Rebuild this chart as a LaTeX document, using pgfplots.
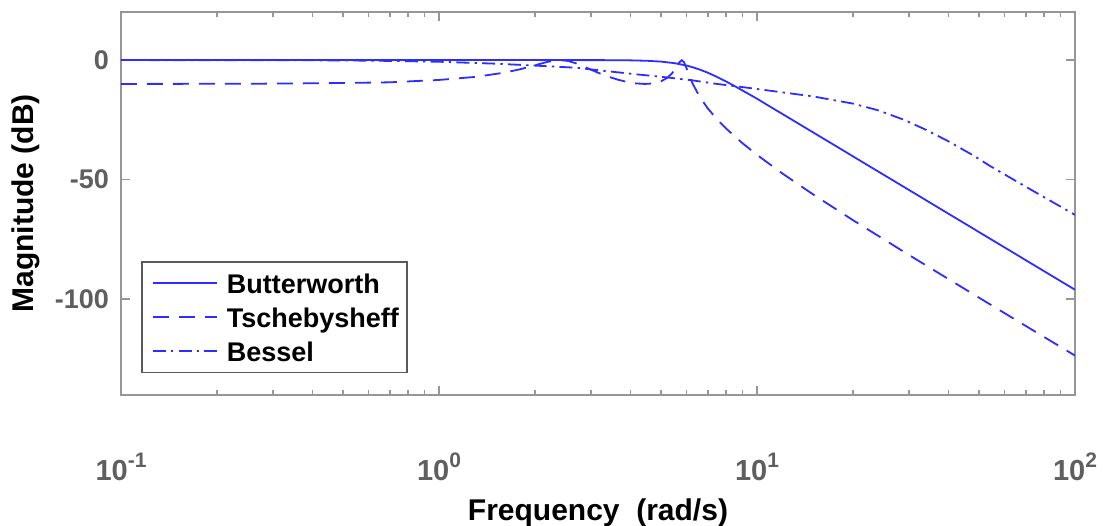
\documentclass[border=0pt]{standalone}
\usepackage{fontspec}
\setmainfont{Liberation Sans}
\usepackage{pgfplots}
\pgfplotsset{compat=1.18}
\definecolor{curve}{RGB}{45,45,255}
\definecolor{axgray}{RGB}{150,150,150}
\definecolor{lblgray}{RGB}{95,95,95}
\definecolor{legdraw}{RGB}{90,90,90}
\newcommand{\tp}[1]{10\raisebox{6.5pt}{\fontsize{10.5}{12}\selectfont\bfseries #1}}
\begin{document}
\begin{tikzpicture}
\path[use as bounding box] (-60.5pt,-65.25pt) rectangle (491pt,197.25pt);
\begin{axis}[
  scale only axis, width=477pt, height=191.1pt,
  xmode=log, xmin=0.1, xmax=100, ymin=-140, ymax=20,
  xtick={0.1,1,10,100},
  xticklabels={\tp{-1},\tp{0},\tp{1},\tp{2}},
  minor xtick={0.2,0.3,0.4,0.5,0.6,0.7,0.8,0.9,2,3,4,5,6,7,8,9,20,30,40,50,60,70,80,90},
  ytick={-100,-50,0}, yticklabels={-100,-50,0},
  xtick pos=both, ytick pos=both,
  xticklabel pos=lower, yticklabel pos=left,
  tick align=inside,
  axis line style={draw=axgray, line width=1pt},
  tick style={draw=axgray, line width=0.8pt},
  major tick length=4.5pt, minor tick length=2.3pt,
  ticklabel style={font=\bfseries\fontsize{13.5}{16}\selectfont, text=lblgray},
  xticklabel style={anchor=base, yshift=-43pt, font=\bfseries\fontsize{14.5}{16}\selectfont},
  yticklabel style={anchor=east, xshift=-2.5pt},
  xlabel={Frequency\ \ (rad/s)}, ylabel={Magnitude (dB)},
  label style={font=\bfseries\fontsize{15}{18}\selectfont, text=black},
  xlabel style={at={(axis description cs:0.5,0)}, anchor=base, yshift=-63pt},
  ylabel style={at={(axis description cs:-0.092,0.5)}, anchor=base},
  legend style={at={(0.021,0.056)}, anchor=south west, draw=legdraw, line width=0.8pt,
    fill=white, font=\bfseries\fontsize{13.5}{16}\selectfont,
    inner xsep=3pt, inner ysep=2pt,
    nodes={inner sep=1pt, text height=12.5pt, text depth=2.5pt}},
  legend cell align=left,
  legend image code/.code={\draw[draw=none] (0pt,0pt) -- (2.5pt,0pt); \draw[#1] (2.5pt,0pt) -- (34.5pt,0pt); \draw[draw=none] (34.5pt,0pt) -- (38.5pt,0pt);},
  every axis plot/.append style={curve, line width=0.9pt},
]
\addplot[solid] table {
x y
0.1 0
0.5 0
1 0
2 0
3 -0.012
3.5 -0.04
4 -0.116
4.5 -0.29
5 -0.648
5.5 -1.287
6 -2.28
6.283 -3.01
6.6 -3.95
7 -5.28
7.5 -7.09
8 -8.98
8.5 -10.87
9 -12.72
10 -16.16
11 -19.51
12 -22.50
15 -30.24
20 -40.23
30 -54.31
50 -72.06
70 -83.75
100 -96.14
};
\addlegendentry{Butterworth}
\addplot[dash pattern=on 8pt off 5pt] table {
x y
0.1 -9.98
0.2 -9.937
0.3 -9.857
0.5 -9.598
0.7 -9.31
1.0 -8.32
1.3 -7.05
1.6 -5.30
1.8 -3.84
2.0 -2.21
2.2 -0.70
2.4 0
2.55 -0.378
2.7 -1.387
2.85 -2.67
3.0 -3.98
3.2 -5.556
3.4 -6.88
3.65 -8.195
3.9 -9.14
4.15 -9.747
4.44 -10
4.7 -9.778
5.0 -8.82
5.2 -7.596
5.4 -5.65
5.6 -2.66
5.7 -0.958
5.8 0
5.9 -0.958
6.0 -3.32
6.1 -5.90
6.283 -10.0
6.6 -15.3
7 -20.2
7.5 -24.89
8 -28.69
9 -34.78
10 -39.67
12 -47.41
15 -56.2
20 -66.94
30 -81.53
50 -99.53
70 -111.29
100 -123.7
};
\addlegendentry{Tschebysheff}
\addplot[dash pattern=on 6.5pt off 2.6pt on 1.2pt off 2.6pt] table {
x y
0.1 0
0.3 -0.05
0.5 -0.15
0.7 -0.35
1.0 -0.7
1.5 -1.5
2.0 -2.3
2.7 -3.2
3.3 -4.5
4.2 -6.0
5.0 -7.0
6.2 -8.4
7.5 -10.0
9.5 -11.7
12 -13.5
15 -15.2
20 -18.2
24 -21.0
29 -25.0
34 -29.2
40 -34.0
48 -40.0
54 -44.3
70 -53.0
100 -64.8
};
\addlegendentry{Bessel}
\end{axis}
\end{tikzpicture}
\end{document}
